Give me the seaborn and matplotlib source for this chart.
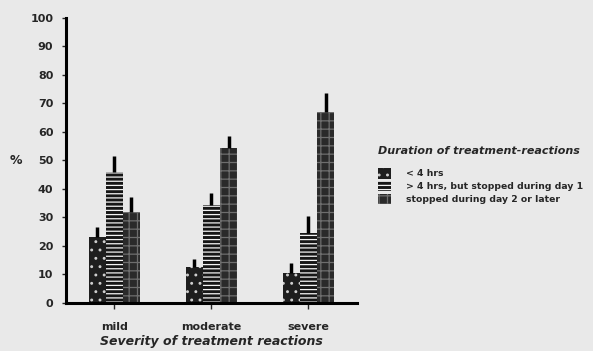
import pandas as pd
import seaborn as sns
import matplotlib.pyplot as plt
from matplotlib.patches import Patch

# Data
severity = ["mild", "moderate", "severe"]
durations = [
    "< 4 hrs",
    "> 4 hrs, but stopped during day 1",
    "stopped during day 2 or later",
]
under_4h = [23, 12.5, 10.5]
stopped_day1 = [46, 34.5, 24.5]
stopped_day2 = [32, 54.5, 67]
err_under_4h = [3.5, 3, 3.5]
err_day1 = [5.5, 4, 6]
err_day2 = [5, 4, 6.5]

percent = [under_4h, stopped_day1, stopped_day2]
errors = [err_under_4h, err_day1, err_day2]

df = pd.DataFrame({
    "Severity": [s for _ in durations for s in severity],
    "Duration": [d for d in durations for _ in severity],
    "Percent": [v for row in percent for v in row],
})

sns.set_style("white")
plt.rcParams["font.family"] = ["DejaVu Sans"]
plt.rcParams["hatch.linewidth"] = 0.9

bg = "#e9e9e9"
face_colors = ["#1e1e1e", "#161616", "#2a2a2a"]
hatches = ["..", "----", "++"]
hatch_colors = ["#cfcfcf", "#f2f2f2", "#6e6e6e"]

fig = plt.figure(figsize=(5.93, 3.51), dpi=100, facecolor=bg)
ax = fig.add_axes([0.111, 0.137, 0.491, 0.812], facecolor=bg)

sns.barplot(
    data=df,
    x="Severity",
    y="Percent",
    hue="Duration",
    hue_order=durations,
    order=severity,
    palette=face_colors,
    width=0.53,
    gap=0,
    errorbar=None,
    legend=False,
    ax=ax,
)

# hatch each duration group and put an upward error bar on every bar
for cont, h, hc, err in zip(ax.containers, hatches, hatch_colors, errors):
    xs, ys = [], []
    for bar in cont:
        bar.set_hatch(h)
        bar.set_edgecolor(hc)
        bar.set_linewidth(0)
        xs.append(bar.get_x() + bar.get_width() / 2)
        ys.append(bar.get_height())
    ax.errorbar(
        xs, ys,
        yerr=[[0] * len(err), err],
        fmt="none",
        ecolor="black",
        elinewidth=2.5,
        capsize=0,
        zorder=3,
    )

ax.set_xlim(-0.5, 2.5)
ax.set_ylim(0, 100)
ax.set_yticks(range(0, 101, 10))
sns.despine(ax=ax)
for side in ["left", "bottom"]:
    ax.spines[side].set_linewidth(2.2)
    ax.spines[side].set_color("black")

ax.tick_params(axis="y", direction="out", length=3, width=1, labelsize=8,
               left=True, pad=6)
ax.tick_params(axis="x", direction="out", length=4, width=1, labelsize=8,
               bottom=True, pad=10)
for lbl in ax.get_xticklabels() + ax.get_yticklabels():
    lbl.set_fontweight("bold")

ax.set_ylabel("%", fontsize=9, fontweight="bold", rotation=0, va="center")
ax.yaxis.set_label_coords(-0.17, 0.5)
ax.set_xlabel("Severity of treatment reactions", fontsize=9,
              fontweight="bold", fontstyle="italic", labelpad=2)

# Legend built by hand so it keeps the hatches
handles = [
    Patch(facecolor=fc, edgecolor=hc, hatch=h, linewidth=0)
    for fc, hc, h in zip(face_colors, hatch_colors, hatches)
]
leg = ax.legend(
    handles, durations,
    title="Duration of treatment-reactions",
    loc="upper left",
    bbox_to_anchor=(0.637, 0.585),
    bbox_transform=fig.transFigure,
    frameon=False,
    alignment="left",
    fontsize=6.7,
    title_fontsize=8,
    handlelength=1.45,
    handleheight=1.35,
    handletextpad=1.6,
    labelspacing=0.25,
    borderaxespad=0,
    borderpad=0,
)
leg.get_title().set_fontweight("bold")
leg.get_title().set_fontstyle("italic")
leg._legend_box.sep = 9
for t in leg.get_texts():
    t.set_fontweight("bold")

fig.savefig("out.png", dpi=100, facecolor=bg)
